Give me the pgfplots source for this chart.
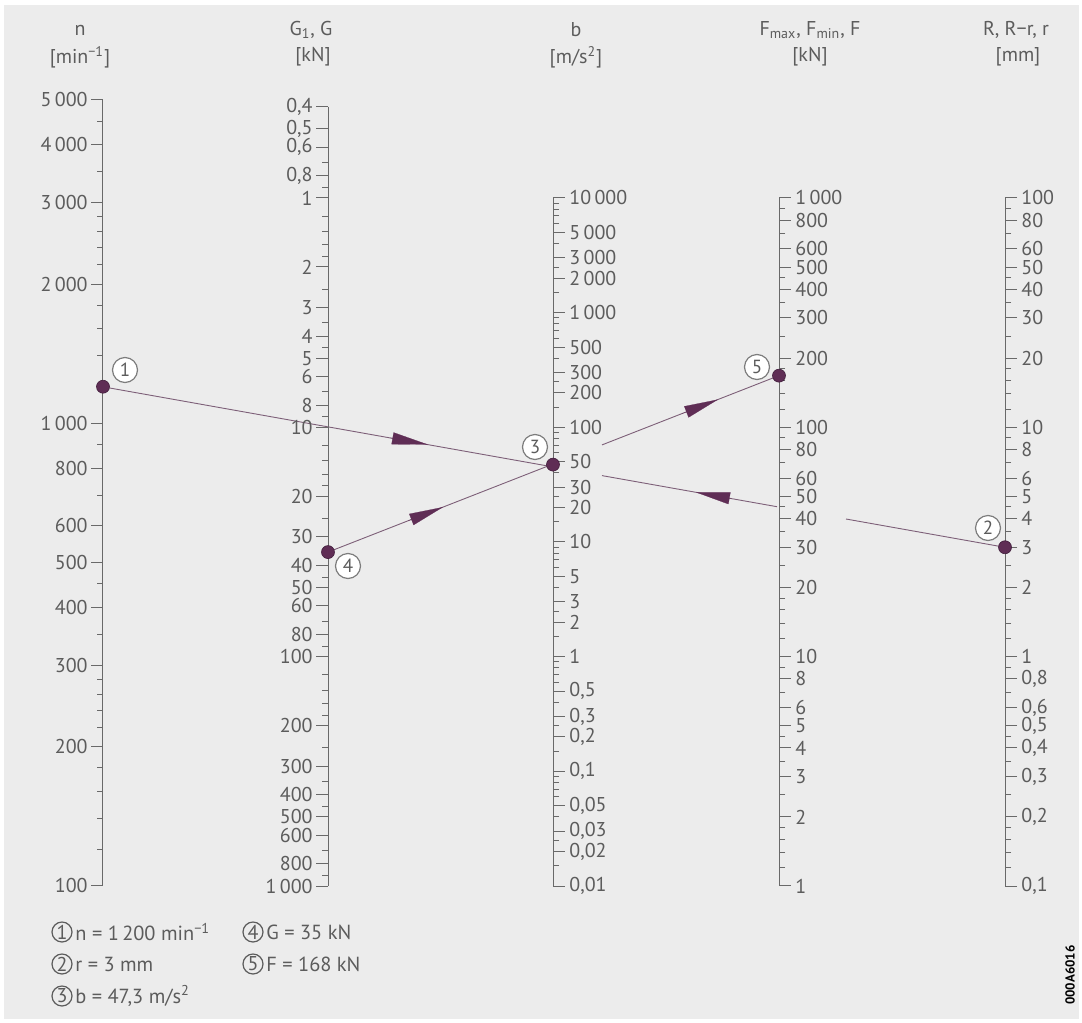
\documentclass[border=0pt]{standalone}
\usepackage{fontspec}
\setmainfont{PT Sans}
\usepackage{pgfplots}
\pgfplotsset{compat=1.18}
\usetikzlibrary{arrows.meta}

\definecolor{bg}{RGB}{236,236,236}
\definecolor{txt}{RGB}{92,92,92}
\definecolor{axl}{RGB}{105,105,105}
\definecolor{lnc}{RGB}{125,95,120}
\definecolor{dot}{RGB}{95,45,85}
\definecolor{dotline}{RGB}{65,30,60}

\tikzset{
  tag/.style={circle, draw={rgb,255:red,125;green,125;blue,125}, line width=0.6pt,
    fill=white, inner sep=0pt, minimum size=12.5pt, text=txt,
    font=\fontsize{9.5}{10}\selectfont},
  ltag/.style={circle, draw=txt, line width=0.6pt, inner sep=0pt,
    minimum size=10pt, text=txt, font=\fontsize{10}{10}\selectfont},
  lab/.style={text=txt, font=\fontsize{10}{11}\selectfont, inner sep=0pt},
  key/.style={text=txt, font=\fontsize{10.2}{11}\selectfont, inner sep=0pt, anchor=west},
}

\begin{document}
\begin{tikzpicture}

% base frame in reference pixels (y downwards), one pixel = 0.5pt
\begin{axis}[
  at={(0,0)}, anchor=south west, scale only axis,
  width=541pt, height=511.5pt,
  xmin=0, xmax=1082, ymin=0, ymax=1023, y dir=reverse,
  hide axis, clip=false,
]
\fill[white] (axis cs:0,0) rectangle (axis cs:1082,1023);
\fill[bg] (axis cs:4,5) rectangle (axis cs:1079,1019);

% line 1 -> 3 -> 2
\addplot[lnc, line width=0.45pt] coordinates {(103,386.8) (553,466.9)};
\addplot[lnc, line width=0.45pt] coordinates {(602,475.6) (777,506.7)};
\addplot[lnc, line width=0.45pt] coordinates {(846,519.0) (1005,547.3)};
% line 4 -> 3 -> 5
\addplot[lnc, line width=0.45pt] coordinates {(328,552.1) (553,464.05)};
\addplot[lnc, line width=0.45pt] coordinates {(602,444.9) (779,375.6)};

% direction arrows
\addplot[dot, line width=0.1pt, -{Triangle[length=18pt,width=6pt]}] coordinates {(390,437.9) (428,444.6)};
\addplot[dot, line width=0.1pt, -{Triangle[length=17pt,width=6pt]}] coordinates {(731,498.5) (696,492.3)};
\addplot[dot, line width=0.1pt, -{Triangle[length=17pt,width=6pt]}] coordinates {(408,520.8) (443,507.1)};
\addplot[dot, line width=0.1pt, -{Triangle[length=17pt,width=6pt]}] coordinates {(682,413.6) (718,399.5)};

% tags beside the points
\node[tag] at (axis cs:125,370) {1};
\node[tag] at (axis cs:988,528) {2};
\node[tag] at (axis cs:535,447) {3};
\node[tag] at (axis cs:348,566) {4};
\node[tag] at (axis cs:757,367) {5};

% scale titles
\node[lab] at (axis cs:80,30) {n};
\node[lab] at (axis cs:80,57) {[min\textsuperscript{−1}]};
\node[lab] at (axis cs:311,30) {G\textsubscript{1}, G};
\node[lab] at (axis cs:313,57) {[kN]};
\node[lab] at (axis cs:576,30) {b};
\node[lab] at (axis cs:576,57) {[m/s\textsuperscript{2}]};
\node[lab] at (axis cs:810,30) {F\textsubscript{max}, F\textsubscript{min}, F};
\node[lab] at (axis cs:810,57) {[kN]};
\node[lab] at (axis cs:1016,30) {R, R−r, r};
\node[lab] at (axis cs:1018,57) {[mm]};

% key
\node[ltag] at (axis cs:62,932) {1};
\node[key] at (axis cs:75,932) {n = 1\,200 min\textsuperscript{−1}};
\node[ltag] at (axis cs:62,964) {2};
\node[key] at (axis cs:75,964) {r = 3 mm};
\node[ltag] at (axis cs:62,996) {3};
\node[key] at (axis cs:75,996) {b = 47,3 m/s\textsuperscript{2}};
\node[ltag] at (axis cs:253,932) {4};
\node[key] at (axis cs:266,932) {G = 35 kN};
\node[ltag] at (axis cs:253,964) {5};
\node[key] at (axis cs:266,964) {F = 168 kN};

\node[rotate=90, inner sep=0pt, font=\bfseries\fontsize{6.5}{7}\selectfont] at (axis cs:1070,975) {000A6016};
\end{axis}

% n [min^-1]
\begin{axis}[
  scale only axis, width=1pt, anchor=south west,
  xmin=0, xmax=1, xtick=\empty, ymode=log,
  enlargelimits=false, clip=false,
  axis x line=none, axis y line=left,
  axis line style={-, draw=axl, line width=0.5pt},
  tick align=outside, major tick length=6pt, minor tick length=3pt,
  tick style={draw=axl, line width=0.5pt},
  yticklabel style={font=\fontsize{10}{11}\selectfont, text=txt, inner sep=1.5pt},
  at={(51.5pt,68.5pt)}, height=393pt,
  ymin=100, ymax=5000,
  ytick={100,200,300,400,500,600,800,1000,2000,3000,4000,5000},
  yticklabels={100,200,300,400,500,600,800,1\,000,2\,000,3\,000,4\,000,5\,000},
  minor ytick={120,140,160,180,220,240,260,280,350,450,700,900,1200,1400,1600,1800,2200,2400,2600,2800,3500,4500},
]
\addplot[only marks, mark=*, mark size=3.25pt, mark options={fill=dot, draw=dotline, line width=0.3pt}] coordinates {(0,1200)};
\end{axis}

% G1, G [kN]
\begin{axis}[
  scale only axis, width=1pt, anchor=south west,
  xmin=0, xmax=1, xtick=\empty, ymode=log,
  enlargelimits=false, clip=false,
  axis x line=none, axis y line=left,
  axis line style={-, draw=axl, line width=0.5pt},
  tick align=outside, major tick length=6pt, minor tick length=3pt,
  tick style={draw=axl, line width=0.5pt},
  yticklabel style={font=\fontsize{10}{11}\selectfont, text=txt, inner sep=1.5pt},
  at={(164pt,68.5pt)}, height=389.65pt, y dir=reverse,
  ymin=0.4, ymax=1000,
  ytick={0.4,0.5,0.6,0.8,1,2,3,4,5,6,8,10,20,30,40,50,60,80,100,200,300,400,500,600,800,1000},
  yticklabels={{0,4},{0,5},{0,6},{0,8},1,2,3,4,5,6,8,10,20,30,40,50,60,80,100,200,300,400,500,600,800,1\,000},
  minor ytick={0.7,0.9,1.2,1.4,1.6,1.8,2.5,3.5,4.5,7,9,12,14,16,18,25,35,45,70,90,120,140,160,180,250,350,450,700,900},
]
\addplot[only marks, mark=*, mark size=3.25pt, mark options={fill=dot, draw=dotline, line width=0.3pt}] coordinates {(0,35)};
\end{axis}

% b [m/s^2]
\begin{axis}[
  scale only axis, width=1pt, anchor=south west,
  xmin=0, xmax=1, xtick=\empty, ymode=log,
  enlargelimits=false, clip=false,
  axis x line=none, axis y line=right,
  axis line style={-, draw=axl, line width=0.5pt},
  tick align=outside, major tick length=6pt, minor tick length=3pt,
  tick style={draw=axl, line width=0.5pt},
  yticklabel style={font=\fontsize{10}{11}\selectfont, text=txt, inner sep=2pt},
  at={(275.5pt,68.5pt)}, height=344pt,
  ymin=0.01, ymax=10000,
  ytick={0.01,0.02,0.03,0.05,0.1,0.2,0.3,0.5,1,2,3,5,10,20,30,50,100,200,300,500,1000,2000,3000,5000,10000},
  yticklabels={{0,01},{0,02},{0,03},{0,05},{0,1},{0,2},{0,3},{0,5},1,2,3,5,10,20,30,50,100,200,300,500,1\,000,2\,000,3\,000,5\,000,10\,000},
  minor ytick={0.015,0.025,0.04,0.06,0.07,0.08,0.09,0.15,0.25,0.4,0.6,0.7,0.8,0.9,1.5,2.5,4,6,7,8,9,15,25,40,60,70,80,90,150,250,400,600,700,800,900,1500,2500,4000,6000,7000,8000,9000},
]
\addplot[only marks, mark=*, mark size=3.25pt, mark options={fill=dot, draw=dotline, line width=0.3pt}] coordinates {(1,47.3)};
\end{axis}

% Fmax, Fmin, F [kN]
\begin{axis}[
  scale only axis, width=1pt, anchor=south west,
  xmin=0, xmax=1, xtick=\empty, ymode=log,
  enlargelimits=false, clip=false,
  axis x line=none, axis y line=right,
  axis line style={-, draw=axl, line width=0.5pt},
  tick align=outside, major tick length=6pt, minor tick length=3pt,
  tick style={draw=axl, line width=0.5pt},
  yticklabel style={font=\fontsize{10}{11}\selectfont, text=txt, inner sep=2pt},
  at={(388.5pt,68.5pt)}, height=344pt,
  ymin=1, ymax=1000,
  ytick={1,2,3,4,5,6,8,10,20,30,40,50,60,80,100,200,300,400,500,600,800,1000},
  yticklabels={1,2,3,4,5,6,8,10,20,30,40,50,60,80,100,200,300,400,500,600,800,1\,000},
  minor ytick={1.2,1.4,1.6,1.8,2.5,3.5,4.5,7,9,12,14,16,18,25,35,45,70,90,120,140,160,180,250,350,450,700,900},
]
\addplot[only marks, mark=*, mark size=3.25pt, mark options={fill=dot, draw=dotline, line width=0.3pt}] coordinates {(1,168)};
\end{axis}

% R, R-r, r [mm]
\begin{axis}[
  scale only axis, width=1pt, anchor=south west,
  xmin=0, xmax=1, xtick=\empty, ymode=log,
  enlargelimits=false, clip=false,
  axis x line=none, axis y line=right,
  axis line style={-, draw=axl, line width=0.5pt},
  tick align=outside, major tick length=6pt, minor tick length=3pt,
  tick style={draw=axl, line width=0.5pt},
  yticklabel style={font=\fontsize{10}{11}\selectfont, text=txt, inner sep=2pt},
  at={(501.5pt,68.5pt)}, height=344pt,
  ymin=0.1, ymax=100,
  ytick={0.1,0.2,0.3,0.4,0.5,0.6,0.8,1,2,3,4,5,6,8,10,20,30,40,50,60,80,100},
  yticklabels={{0,1},{0,2},{0,3},{0,4},{0,5},{0,6},{0,8},1,2,3,4,5,6,8,10,20,30,40,50,60,80,100},
  minor ytick={0.12,0.14,0.16,0.18,0.25,0.35,0.45,0.7,0.9,1.2,1.4,1.6,1.8,2.5,3.5,4.5,7,9,12,14,16,18,25,35,45,70,90},
]
\addplot[only marks, mark=*, mark size=3.25pt, mark options={fill=dot, draw=dotline, line width=0.3pt}] coordinates {(1,3)};
\end{axis}

\end{tikzpicture}
\end{document}
